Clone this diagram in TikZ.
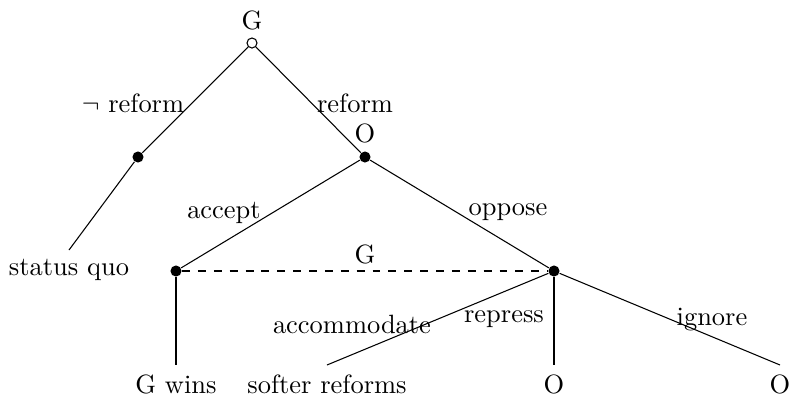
\documentclass[tikz,border=0pt]{standalone}
\begin{document}
\begin{tikzpicture}[x=0.378pt,y=-0.378pt,
  opencirc/.style={circle,draw,fill=white,inner sep=0pt,minimum size=3.8pt},
  dot/.style={circle,fill=black,inner sep=0pt,minimum size=4.2pt},
  leaf/.style={anchor=north},
  lbl/.style={inner sep=1pt}]
\useasboundingbox (0,0) rectangle (791,397);
% decision nodes
\node[opencirc] (r) at (252,43) {};
\node[dot] (nl) at (138,157) {};
\node[dot] (o) at (365,157) {};
\node[dot] (a) at (176,271) {};
\node[dot] (p) at (554,271) {};
% terminal nodes
\node[leaf] (sq) at (69,250) {status quo};
\node[leaf] (gw) at (176,365) {G wins};
\node[leaf] (sr) at (327,365) {softer reforms};
\node[leaf] (o1) at (554,365) {O};
\node[leaf] (o2) at (780,365) {O};
% edges
\draw (r) -- (nl);
\draw (r) -- (o);
\draw (nl) -- (sq.north);
\draw (o) -- (a);
\draw (o) -- (p);
\draw[dashed] (a) -- (p);
\draw (a) -- (gw.north);
\draw (p) -- (sr.north);
\draw (p) -- (o1.north);
\draw (p) -- (o2.north);
% labels
\node[lbl] (lG) at (252,20) {G};
\node[lbl] (lO) at (365,133) {O};
\node[lbl] (lG2) at (365,254) {G};
\node[lbl] (lnr) at (133,103) {$\neg$ reform};
\node[lbl] (lr) at (355,103) {reform};
\node[lbl] (lacc) at (224,213) {accept};
\node[lbl] (lopp) at (508,212) {oppose};
\node[lbl] (lacm) at (352,324) {accommodate};
\node[lbl] (lrep) at (504,319) {repress};
\node[lbl] (lign) at (712,320) {ignore};
\end{tikzpicture}
\end{document}
